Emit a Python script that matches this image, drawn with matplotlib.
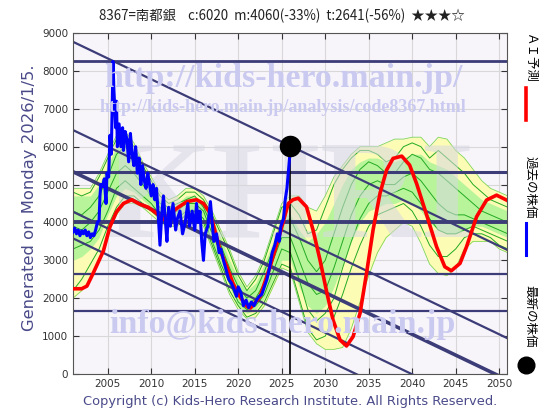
import matplotlib
matplotlib.use("Agg")
import matplotlib.pyplot as plt
import numpy as np

# chart values
title = "8367=南都銀    c:6020  m:4060(-33%)  t:2641(-56%)  ★★★☆"

blue_x = [2001.0, 2001.2, 2001.4, 2001.6, 2001.8, 2002.0, 2002.2, 2002.4, 2002.6, 2002.8,
          2003.0, 2003.2, 2003.4, 2003.6, 2003.8, 2004.0, 2004.1, 2004.2, 2004.4, 2004.6,
          2004.8, 2004.9, 2005.1, 2005.25, 2005.4, 2005.5, 2005.6, 2005.7, 2005.8, 2005.9,
          2006.0, 2006.1, 2006.3, 2006.5, 2006.7, 2006.8, 2007.0, 2007.2, 2007.4, 2007.6,
          2007.8, 2008.0, 2008.2, 2008.4, 2008.6, 2008.8, 2009.0, 2009.2, 2009.4, 2009.6,
          2009.8, 2010.0, 2010.2, 2010.4, 2010.6, 2010.8, 2011.0, 2011.2, 2011.4, 2011.6,
          2011.8, 2012.0, 2012.2, 2012.5, 2012.8, 2013.0, 2013.3, 2013.6, 2013.9, 2014.2,
          2014.4, 2014.7, 2015.0, 2015.2, 2015.4, 2015.6, 2015.8, 2016.0, 2016.2, 2016.5,
          2016.8, 2017.0, 2017.2, 2017.5, 2017.8, 2018.0, 2018.3, 2018.6, 2018.9, 2019.2,
          2019.5, 2019.8, 2020.0, 2020.3, 2020.6, 2020.9, 2021.2, 2021.5, 2021.8, 2022.1,
          2022.4, 2022.7, 2023.0, 2023.3, 2023.6, 2023.9, 2024.2, 2024.5, 2024.7, 2024.9,
          2025.2, 2025.4, 2025.6, 2025.75, 2025.9]
blue_y = [3750, 3850, 3700, 3800, 3650, 3780, 3700, 3800, 3650, 3750,
          3600, 3700, 3650, 3800, 4000, 4050, 4700, 5000, 4950, 5150,
          4500, 5300, 5200, 6300, 5800, 7000, 8250, 7500, 7050, 6500,
          7200, 6000, 6600, 6000, 6500, 5900, 6400, 6200, 5600, 6350,
          5800, 5500, 6000, 5300, 5700, 5000, 5500, 5100, 4900, 5300,
          5000, 4700, 5000, 4600, 4900, 4200, 3400, 4200, 4700, 4100,
          3500, 4400, 3900, 4500, 3800, 4100, 4300, 3700, 4000, 4500,
          3900, 4300, 3800, 4500, 4000, 4300, 3500, 3000, 3700, 3900,
          4550, 4000, 3500, 3700, 3200, 3300, 3000, 2750, 2500, 2400,
          2250, 2050, 2300, 2150, 1800, 1950, 1750, 1900, 1800, 1950,
          2050, 2100, 2300, 2500, 2800, 3200, 3400, 3700, 3500, 3900,
          4100, 4600, 4900, 5300, 5700]

red_x = [2001.0, 2002.0, 2002.6, 2003.3, 2004.5, 2005.25, 2006.0, 2006.8, 2007.75, 2008.7,
         2009.65, 2010.6, 2011.4, 2012.15, 2013.1, 2014.1, 2015.2, 2016.0, 2016.75, 2017.3,
         2017.9, 2018.7, 2019.4, 2020.2, 2021.0, 2021.4, 2022.5, 2023.65, 2024.8, 2025.75,
         2026.3, 2026.9, 2027.85, 2028.6, 2029.4, 2030.2, 2030.9, 2031.7, 2032.45, 2033.2,
         2034.0, 2034.75, 2035.5, 2036.3, 2037.05, 2037.8, 2038.8, 2039.7, 2040.5, 2041.6,
         2042.8, 2043.75, 2044.5, 2045.5, 2046.25, 2047.4, 2048.55, 2049.7, 2050.85]
red_y = [2250, 2250, 2320, 2650, 3250, 3890, 4280, 4500, 4600, 4480,
         4400, 4240, 4080, 4230, 4400, 4550, 4600, 4500, 4250, 3800,
         3270, 2830, 2390, 2040, 1780, 1740, 2040, 2830, 3710, 4500,
         4600, 4640, 4410, 3800, 3010, 2130, 1425, 900, 740, 985,
         1600, 2660, 3800, 4770, 5380, 5690, 5750, 5515, 5030, 4240,
         3360, 2830, 2725, 2920, 3360, 4150, 4590, 4720, 4590]

band_x = list(range(2001, 2052))
yellow_hi = [4900, 4900, 4900, 5300, 5800, 6300, 6400, 6100, 5600, 5200,
             4800, 4600, 4700, 4900, 4900, 4700, 4300, 3800, 3300, 2700,
             2300, 2600, 3100, 3800, 4500, 4700, 4700, 4400, 4300, 4700,
             5200, 5500, 5800, 6000, 6000, 6000, 6100, 6200, 6200, 6250,
             6250, 6000, 6250, 6200, 5900, 5700, 5400, 5100, 4900, 4800, 4700]
yellow_lo = [2000, 2200, 2500, 3000, 3700, 4200, 4500, 4500, 4400, 4200,
             4000, 3900, 3900, 4100, 4100, 3900, 3300, 2700, 2100, 1700,
             1450, 1500, 1800, 2300, 2800, 2700, 1900, 1100, 800, 650,
             650, 700, 1200, 1900, 2600, 3200, 3600, 3800, 4000, 3900,
             3450, 2900, 2650, 2600, 2800, 3300, 3500, 3500, 3500, 3300, 3200]
lgreen_hi = [4700, 4700, 4700, 5000, 5500, 6000, 6100, 5800, 5300, 5000,
             4600, 4400, 4500, 4700, 4700, 4500, 4100, 3600, 3000, 2500,
             2200, 2400, 2900, 3500, 4200, 4200, 3800, 3500, 3700, 4000,
             4500, 5000, 5400, 5600, 5700, 5700, 5600, 5600, 5700, 5800,
             5800, 5600, 5500, 5400, 5200, 5000, 4800, 4600, 4500, 4400, 4300]
lgreen_lo = [3000, 3100, 3300, 3600, 4200, 4700, 4900, 4800, 4600, 4400,
             4100, 4000, 4000, 4200, 4200, 4000, 3500, 2900, 2300, 1800,
             1600, 1700, 2000, 2500, 3000, 3000, 2300, 1800, 1600, 1800,
             2300, 2900, 3500, 4000, 4300, 4400, 4500, 4500, 4600, 4500,
             4300, 4000, 3800, 3700, 3700, 3800, 3900, 3900, 3800, 3700, 3600]
green_lines = [
    [4800, 4700, 4800, 5200, 5700, 6200, 6300, 6000, 5500, 5100, 4700, 4500, 4600, 4800, 4800, 4600, 4200,
     3700, 3200, 2600, 2200, 2500, 3000, 3700, 4400, 4500, 4200, 3700, 3800, 4400, 5000, 5400, 5700, 5900,
     5900, 5800, 5600, 5700, 6000, 6100, 6000, 5700, 5900, 5700, 5500, 5300, 5000, 4800, 4600, 4500, 4400],
    [4300, 4200, 4400, 4700, 5200, 5800, 6000, 5700, 5200, 4900, 4500, 4400, 4500, 4600, 4700, 4400, 3900,
     3400, 2800, 2300, 2000, 2200, 2700, 3300, 4000, 4100, 3600, 3000, 2700, 3000, 3700, 4400, 5000, 5400,
     5600, 5500, 5300, 5300, 5600, 5800, 5700, 5400, 5300, 5100, 4900, 4700, 4500, 4300, 4200, 4100, 4000],
    [3900, 3800, 4000, 4300, 4800, 5300, 5500, 5300, 5000, 4700, 4400, 4200, 4300, 4500, 4500, 4300, 3700,
     3200, 2600, 2100, 1800, 2000, 2400, 3000, 3600, 3600, 3000, 2400, 2100, 2200, 2800, 3500, 4200, 4700,
     5000, 5100, 5000, 5000, 5200, 5300, 5100, 4800, 4500, 4300, 4200, 4200, 4100, 4000, 3900, 3800, 3700],
    [3300, 3400, 3500, 3800, 4300, 4900, 5100, 4900, 4700, 4500, 4200, 4100, 4100, 4300, 4300, 4100, 3500,
     2900, 2400, 1900, 1700, 1800, 2100, 2700, 3300, 3200, 2500, 1700, 1400, 1600, 2000, 2800, 3500, 4100,
     4500, 4700, 4700, 4800, 4900, 4800, 4500, 4100, 3800, 3700, 3700, 3800, 3900, 3800, 3700, 3600, 3500],
    [2200, 2500, 2900, 3300, 3900, 4400, 4700, 4700, 4500, 4300, 4100, 4000, 4000, 4200, 4200, 4000, 3400,
     2800, 2200, 1800, 1500, 1600, 1900, 2400, 2900, 2800, 2000, 1200, 900, 1000, 1500, 2100, 2800, 3400,
     3900, 4200, 4300, 4400, 4500, 4300, 3900, 3400, 3100, 3100, 3300, 3600, 3700, 3700, 3600, 3400, 3300],
]

h_levels = [8250, 5330, 4000, 2641, 1670]
h_widths = [2.0, 2.2, 2.8, 1.6, 1.6]
diag_start = [8768, 6438, 5338, 4282, 3580]
diag_widths = [1.6, 1.6, 2.6, 1.6, 1.6]
diag_slope = -110  # per year

now_year = 2026.0
now_price = 6020
last_blue = 5700

navy = "#3c3c78"
jp = ["Noto Sans CJK JP", "DejaVu Sans"]
wm = "#cacaf0"

fig = plt.figure(figsize=(5.6, 4.2), dpi=100)
ax = fig.add_axes([73 / 560, 1 - 374 / 420, (507 - 73) / 560, (374 - 33) / 420])
ax.set_facecolor("#f8f5fa")

ax.fill_between(band_x, yellow_lo, yellow_hi, color="#fdfcb4", lw=0, zorder=1)
ax.fill_between(band_x, lgreen_lo, lgreen_hi, color="#b8f59a", lw=0, zorder=1.1)
ax.plot(band_x, yellow_hi, color="#7fd65a", lw=0.6, zorder=1.2)
ax.plot(band_x, yellow_lo, color="#7fd65a", lw=0.6, zorder=1.2)
for g in green_lines:
    ax.plot(band_x, g, color="#22aa22", lw=0.7, zorder=1.3)

# watermark texts
ax.text(0.5, 0.5, "KHRI", transform=ax.transAxes, fontsize=100, family="Liberation Serif",
        weight="bold", color="#d6d6e2", alpha=0.55, ha="center", va="center", zorder=1.5)
fig.text(283 / 560, 1 - 78 / 420, "http://kids-hero.main.jp/", fontsize=24.5, family="Liberation Serif",
         weight="bold", color=wm, ha="center", va="center", zorder=3)
fig.text(283 / 560, 1 - 108 / 420, "http://kids-hero.main.jp/analysis/code8367.html", fontsize=13,
         family="Liberation Serif", weight="bold", color=wm, ha="center", va="center", zorder=3)
fig.text(282 / 560, 1 - 325 / 420, "info@kids-hero.main.jp", fontsize=24.5, family="Liberation Serif",
         weight="bold", color=wm, ha="center", va="center", zorder=3)

for v, w in zip(h_levels, h_widths):
    ax.axhline(v, color=navy, lw=w, zorder=2)
for v, w in zip(diag_start, diag_widths):
    ax.plot([2001, 2052], [v, v + diag_slope * 51], color=navy, lw=w, zorder=2)

ax.plot([now_year, now_year], [0, last_blue], color="black", lw=1.2, zorder=2.5)
ax.plot(red_x, red_y, color="red", lw=2.6, zorder=4)
ax.plot(blue_x, blue_y, color="blue", lw=2.2, zorder=4.5)
ax.plot([now_year], [now_price], "o", color="black", ms=14.5, zorder=5)

ax.set_xlim(2001.0, 2050.9)
ax.set_ylim(0, 9000)
ax.set_xticks(range(2005, 2051, 5))
ax.set_yticks(range(0, 9001, 1000))
ax.grid(color="#d8d8d8", lw=0.8, zorder=0)
ax.set_axisbelow(True)
ax.tick_params(direction="in", top=True, right=True, labelsize=7.5, colors="#333333", length=4)
for s in ax.spines.values():
    s.set_color("#555555")
    s.set_linewidth(0.8)

fig.text(282 / 560, 1 - 16 / 420, title, family=jp, fontsize=9.6, ha="center", va="center", color="#222222")
fig.text(30 / 560, 1 - 198 / 420, "Generated on Monday 2026/1/5.", rotation=90, fontsize=11.8,
         color="#4a4a8a", ha="center", va="center")
fig.text(290 / 560, 1 - 402 / 420, "Copyright (c) Kids-Hero Research Institute. All Rights Reserved.",
         fontsize=9.4, color="#4a4a8a", ha="center", va="center")

# right side legend
fig.text(530 / 560, 1 - 58 / 420, "ＡＩ予測", family=jp, rotation=-90, fontsize=9, ha="center", va="center")
fig.add_artist(plt.Line2D([526 / 560, 526 / 560], [1 - 88 / 420, 1 - 120 / 420], color="red", lw=2.6))
fig.text(530 / 560, 1 - 187 / 420, "過去の株価", family=jp, rotation=-90, fontsize=9, ha="center", va="center")
fig.add_artist(plt.Line2D([526 / 560, 526 / 560], [1 - 223 / 420, 1 - 255 / 420], color="blue", lw=2.2))
fig.text(530 / 560, 1 - 316 / 420, "最新の株価", family=jp, rotation=-90, fontsize=9, ha="center", va="center")
fig.add_artist(plt.Line2D([526 / 560], [1 - 365 / 420], marker="o", color="black", ms=12))

fig.savefig("out.png", dpi=100)
